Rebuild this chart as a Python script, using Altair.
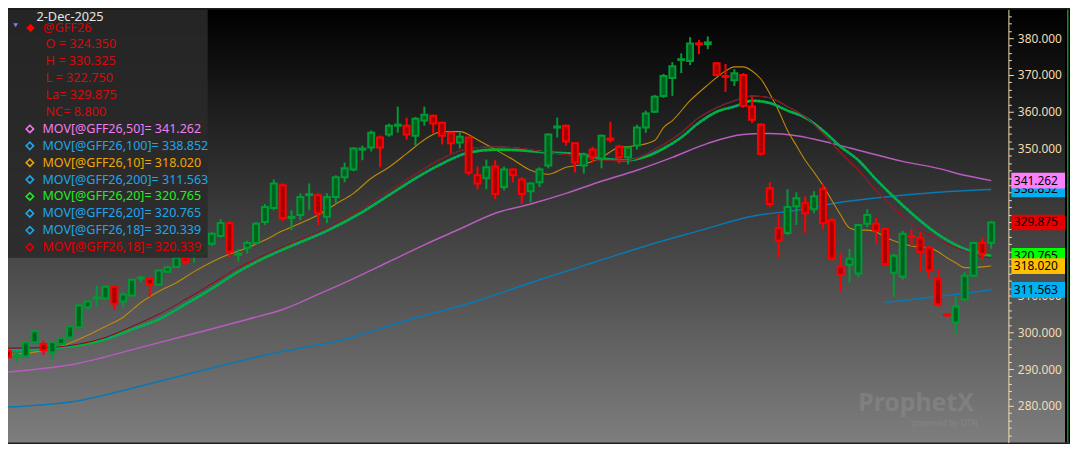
import altair as alt
import pandas as pd

# ---------------- data ----------------
OPEN = [294.9, 293.5, 293.5, 297.3, 296.8, 294.6, 296.8, 298.6, 301.4, 306.8,
        309.2, 309.2, 312.4, 308.4, 310.0, 314.6, 314.6, 313.0, 316.5, 317.8,
        320.3, 321.4, 321.4, 324.1, 326.2, 329.7, 321.1, 323.0, 324.3, 330.0,
        333.8, 340.0, 331.1, 331.9, 337.3, 337.3, 331.4, 336.8, 342.2, 344.3,
        349.7, 350.3, 353.0, 353.8, 356.2, 356.2, 353.5, 357.6, 358.9, 357.0,
        354.3, 351.6, 353.0, 342.7, 341.9, 345.1, 339.5, 344.3, 341.6, 338.4,
        340.8, 345.4, 355.7, 356.2, 351.4, 345.4, 349.7, 347.3, 352.7, 350.5,
        347.6, 350.8, 355.7, 360.0, 364.3, 369.2, 374.1, 373.8, 378.6, 378.4,
        373.2, 369.7, 368.6, 370.0, 361.4, 356.5, 339.2, 328.4, 327.0, 334.3,
        335.1, 333.5, 338.9, 330.5, 317.8, 318.4, 316.0, 329.5, 329.5, 328.1,
        316.2, 315.1, 326.2, 325.7, 323.0, 314.6, 304.9, 302.7, 308.9, 315.4,
        324.3, 324.35]
HIGH = [295.3, 294.6, 297.6, 300.6, 297.8, 297.6, 298.6, 302.0, 307.6, 308.6,
        312.7, 312.7, 312.7, 310.8, 314.6, 315.4, 314.9, 317.0, 318.1, 320.5,
        320.5, 321.9, 324.3, 327.3, 330.8, 330.3, 322.7, 324.9, 330.0, 334.9,
        341.6, 340.5, 333.2, 337.8, 340.5, 337.8, 337.8, 342.7, 346.2, 350.3,
        350.8, 354.9, 353.5, 356.8, 361.4, 358.4, 358.6, 361.4, 359.2, 357.3,
        354.6, 354.3, 353.2, 345.1, 347.0, 346.8, 345.1, 344.6, 342.2, 340.8,
        344.9, 354.1, 358.4, 356.5, 351.6, 348.9, 350.5, 353.8, 357.3, 351.0,
        350.5, 356.5, 360.3, 364.6, 370.3, 373.5, 375.9, 380.3, 379.5, 380.5,
        373.5, 373.0, 371.6, 370.5, 364.1, 356.8, 340.8, 332.2, 338.9, 338.1,
        337.0, 338.4, 340.3, 331.1, 321.6, 322.7, 329.5, 333.5, 331.1, 328.4,
        321.4, 327.6, 328.1, 327.3, 323.5, 317.0, 305.1, 309.7, 316.5, 324.6,
        325.7, 330.325]
LOW = [292.9, 291.9, 293.0, 297.0, 293.8, 292.4, 296.5, 298.1, 301.1, 306.0,
       307.0, 308.9, 306.2, 306.8, 309.7, 313.5, 309.7, 312.7, 316.2, 317.6,
       318.4, 318.9, 320.8, 323.5, 325.7, 320.3, 319.2, 321.4, 323.8, 329.2,
       333.2, 330.3, 327.8, 330.5, 333.2, 329.2, 329.7, 335.1, 340.8, 343.8,
       346.8, 349.2, 344.9, 353.2, 354.3, 352.4, 350.8, 356.2, 354.1, 351.1,
       348.6, 350.0, 342.7, 338.9, 338.9, 336.2, 338.6, 340.8, 334.9, 335.4,
       339.5, 344.6, 353.0, 350.8, 343.5, 343.2, 346.2, 344.6, 351.6, 345.9,
       345.7, 349.7, 354.3, 359.7, 363.8, 364.3, 370.5, 372.7, 375.7, 377.0,
       369.7, 365.4, 367.0, 361.1, 357.0, 348.1, 334.1, 320.5, 326.5, 329.2,
       327.0, 332.4, 328.1, 319.5, 311.1, 313.5, 315.1, 328.6, 324.3, 318.1,
       309.7, 314.3, 323.5, 316.5, 314.6, 307.0, 304.3, 299.5, 308.6, 315.1,
       319.7, 322.75]
CLOSE = [293.2, 293.8, 297.3, 300.3, 295.1, 297.3, 298.4, 301.6, 307.3, 308.4,
         309.5, 312.4, 307.8, 310.3, 314.3, 314.9, 313.0, 316.8, 317.6, 320.3,
         319.2, 321.6, 323.8, 326.8, 329.7, 321.9, 321.4, 324.3, 329.5, 334.1,
         340.5, 331.1, 331.4, 336.8, 337.6, 332.4, 336.8, 342.2, 344.6, 350.0,
         350.0, 354.3, 350.3, 356.2, 356.5, 353.8, 358.1, 359.2, 356.8, 353.5,
         351.4, 353.2, 343.5, 340.5, 344.9, 337.6, 344.3, 342.7, 337.6, 340.5,
         344.3, 353.8, 356.0, 351.9, 346.2, 348.4, 347.6, 353.5, 352.4, 347.6,
         350.3, 355.7, 359.5, 364.1, 369.7, 372.4, 374.3, 378.6, 378.4, 378.9,
         370.0, 369.5, 370.5, 361.6, 357.8, 348.6, 334.9, 324.9, 334.1, 336.5,
         332.4, 337.0, 329.7, 320.0, 315.7, 320.0, 329.2, 331.9, 327.6, 318.6,
         320.8, 326.8, 325.9, 321.9, 316.8, 307.6, 304.6, 307.0, 315.4, 324.3,
         321.4, 329.875]

MA10_IDX = [0, 3, 6, 9, 11, 13, 15, 17, 19, 21, 24, 27, 29, 31, 33, 35, 37, 39, 41, 43,
            45, 47, 49, 51, 53, 55, 57, 59, 61, 63, 65, 67, 69, 71, 73, 74, 75, 77, 79, 81,
            82, 83, 84, 85, 86, 87, 88, 89, 90, 91, 92, 93, 94, 95, 96, 97, 98, 99, 100, 101,
            102, 103, 104, 105, 106, 107, 108, 109, 110, 111]
MA10_VAL = [293.8, 294.6, 296.2, 299.2, 301.6, 304.1, 308.1, 311.1, 313.5, 316.5,
            320.3, 323.0, 325.1, 327.6, 329.7, 331.9, 334.9, 337.8, 341.9, 344.9,
            348.6, 352.4, 354.6, 354.6, 352.4, 349.7, 347.0, 344.1, 343.0, 344.9,
            345.7, 347.6, 350.3, 350.8, 352.2, 355.7, 357.6, 363.0, 367.3, 371.1,
            372.2, 372.2, 371.1, 368.9, 364.9, 360.3, 354.9, 350.8, 346.8, 343.5,
            340.0, 335.9, 331.9, 328.4, 327.8, 327.8, 327.3, 325.9, 324.9, 324.1,
            323.5, 323.2, 323.0, 321.9, 320.3, 318.9, 317.6, 317.6, 317.8, 318.02]

MA20_IDX = [0, 5, 8, 11, 14, 17, 20, 23, 26, 29, 32, 36, 40, 43, 46, 49, 52, 55, 58, 61,
            64, 67, 70, 72, 74, 76, 78, 80, 82, 84, 86, 88, 90, 92, 94, 96, 98, 100, 102, 104,
            106, 108, 110, 111]
MA20_VAL = [295.1, 295.7, 296.5, 298.1, 300.8, 303.5, 307.6, 311.9, 316.5, 320.3,
            323.5, 327.6, 332.7, 337.3, 341.9, 345.9, 348.9, 349.7, 349.5, 348.9,
            348.6, 347.3, 346.8, 347.8, 350.0, 353.0, 357.0, 360.0, 361.4, 363.0,
            362.4, 360.3, 358.4, 354.9, 350.5, 346.8, 341.6, 336.8, 332.4, 328.4,
            325.1, 322.7, 321.4, 320.765]
MA18_IDX = MA20_IDX
MA18_VAL = [295.7, 295.9, 296.8, 298.6, 301.6, 304.9, 308.9, 313.2, 317.6, 321.1,
            324.3, 328.4, 333.8, 338.4, 343.0, 347.3, 350.0, 350.5, 350.0, 348.9,
            348.1, 346.8, 346.8, 348.4, 351.1, 354.3, 358.4, 361.1, 363.0, 364.3,
            363.8, 361.4, 358.6, 354.1, 348.9, 344.1, 338.6, 333.8, 329.5, 326.5,
            324.1, 322.2, 320.5, 320.339]
MA50_IDX = [0, 8, 15, 22, 27, 31, 35, 39, 43, 47, 51, 55, 59, 63, 67, 71, 75, 79, 83, 86,
            89, 93, 97, 101, 105, 108, 111]
MA50_VAL = [289.2, 291.6, 295.9, 300.3, 303.5, 306.2, 310.3, 314.6, 319.2, 323.8,
            328.1, 332.4, 334.9, 337.8, 341.1, 344.1, 347.6, 351.4, 353.8, 354.1,
            353.5, 351.4, 348.9, 346.5, 344.6, 342.7, 341.262]
MA100_IDX = [0, 8, 15, 23, 30, 38, 45, 53, 60, 66, 72, 78, 84, 89, 94, 99, 105, 111]
MA100_VAL = [279.7, 281.4, 285.4, 290.3, 294.3, 298.1, 303.2, 308.6, 314.3, 318.9,
             323.5, 327.6, 331.6, 333.2, 335.4, 336.8, 338.1, 338.852]
MA200_IDX = [99, 103, 107, 111]
MA200_VAL = [308.1, 309.2, 310.3, 311.563]

DATE_TEXT = "2-Dec-2025"
SYMBOL = "@GFF26"
QUOTE_LINES = ["O = 324.350", "H = 330.325", "L = 322.750", "La= 329.875", "NC= 8.800"]
STUDY_LINES = ["MOV[@GFF26,50]= 341.262", "MOV[@GFF26,100]= 338.852", "MOV[@GFF26,10]= 318.020",
               "MOV[@GFF26,200]= 311.563", "MOV[@GFF26,20]= 320.765", "MOV[@GFF26,20]= 320.765",
               "MOV[@GFF26,18]= 320.339", "MOV[@GFF26,18]= 320.339"]
STUDY_COLORS = ["#f07ef0", "#1ea6ec", "#f0a800", "#1ea6ec", "#22ee22", "#1ea6ec", "#1ea6ec", "#e00000"]
TAG_VALS = [338.852, 341.262, 329.875, 320.765, 318.020, 311.563]
TAG_COLORS = ["#00b0f0", "#ff80ff", "#e80000", "#00ff00", "#ffc000", "#00b0f0"]

# ---------------- layout ----------------
W, H = 1069, 436
PX_PER_UNIT = 3.7
XDOM = [5 / 9, (W + 5) / 9]
YDOM = [380 - (H - 29) / PX_PER_UNIT, 380 + 29 / PX_PER_UNIT]
xs = alt.Scale(domain=XDOM, nice=False, zero=False)
ys = alt.Scale(domain=YDOM, nice=False, zero=False)
FONT = "Noto Sans"
CREAM = "#f2dcb2"

UP_EDGE, UP_FILL = "#009a36", "#00621f"
DN_EDGE, DN_FILL = "#ff0000", "#a60000"

yaxis = alt.Axis(
    orient="right", offset=-62, values=list(range(272, 388, 2)),
    labelExpr="(datum.value % 10 === 0 && datum.value >= 280 && datum.value <= 380) ? format(datum.value, '.3f') : ''",
    tickSize={"condition": {"test": "datum.value % 10 === 0", "value": 5}, "value": 3},
    tickColor=CREAM, domainColor=CREAM, labelColor=CREAM, labelFont=FONT, labelFontSize=12,
    labelPadding=4, grid=False, title=None, domainWidth=1, tickWidth=1,
    labelOverlap=False, labelBound=False, labelFlush=False,
)
X_ENC = alt.X("i:Q", scale=xs, axis=None)


def Y(field):
    return alt.Y(field, scale=ys, axis=yaxis)


layers = []


def line_layer(idx, vals, color, width, dash=None):
    df = pd.DataFrame({"i": idx, "v": vals})
    kw = dict(color=color, strokeWidth=width, interpolate="monotone")
    if dash:
        kw["strokeDash"] = dash
    return alt.Chart(df).mark_line(**kw).encode(x=X_ENC, y=Y("v:Q"))


layers.append(line_layer(MA50_IDX, MA50_VAL, "#b85cc0", 1.5))
layers.append(line_layer(MA100_IDX, MA100_VAL, "#0a78b4", 1.5))
layers.append(line_layer(MA10_IDX, MA10_VAL, "#c08a08", 1.1))
layers.append(line_layer(MA200_IDX, MA200_VAL, "#0a78b4", 1.5))
layers.append(line_layer(MA20_IDX, MA20_VAL, "#00b428", 2.6))
layers.append(line_layer(MA20_IDX, MA20_VAL, "#0a98c8", 2.6, dash=[1, 3]))
layers.append(line_layer(MA18_IDX, MA18_VAL, "#0a98c8", 1.1))
layers.append(line_layer(MA18_IDX, MA18_VAL, "#a00000", 1.1))

cd = pd.DataFrame({"i": list(range(len(OPEN))), "o": OPEN, "h": HIGH, "l": LOW, "c": CLOSE})
cd["dir"] = ["up" if c >= o else "down" for o, c in zip(OPEN, CLOSE)]

wicks = alt.Chart(cd).mark_rule(strokeWidth=2).encode(
    x=X_ENC, y=Y("l:Q"), y2="h:Q",
    color=alt.Color("dir:N", scale=alt.Scale(domain=["up", "down"], range=[UP_EDGE, DN_EDGE]), legend=None),
)
bodies = alt.Chart(cd).mark_bar(size=6, strokeWidth=2).encode(
    x=X_ENC, y=Y("o:Q"), y2="c:Q",
    fill=alt.Fill("dir:N", scale=alt.Scale(domain=["up", "down"], range=[UP_FILL, DN_FILL]), legend=None),
    stroke=alt.Stroke("dir:N", scale=alt.Scale(domain=["up", "down"], range=[UP_EDGE, DN_EDGE]), legend=None),
)
layers += [wicks, bodies]


def one(**cols):
    return pd.DataFrame({k: [v] for k, v in cols.items()})


def txt(s, x, y, color, size=12.6, align="left", weight="normal", opacity=1.0):
    return alt.Chart(one(t=s)).mark_text(
        align=align, baseline="middle", font=FONT, fontSize=size, fontWeight=weight,
        color=color, opacity=opacity).encode(x=alt.value(x), y=alt.value(y), text="t:N")


def box(x, x2, y, y2, color, opacity=1.0):
    return alt.Chart(one(a=0)).mark_rect(color=color, opacity=opacity).encode(
        x=alt.value(x), x2=alt.value(x2), y=alt.value(y), y2=alt.value(y2))


# watermark
layers.append(txt("ProphetX", 914, 396, "#a0a0a0", size=25, align="center", weight="bold", opacity=0.3))
layers.append(txt("powered by DTN", 976, 416.5, "#a0a0a0", size=8.5, align="right", opacity=0.3))

# value tags on the axis
for v, col in zip(TAG_VALS, TAG_COLORS):
    half = 7.9 / PX_PER_UNIT
    tdf = pd.DataFrame({"lo": [v - half], "hi": [v + half], "v": [v], "lab": [f"{v:.3f}"]})
    layers.append(alt.Chart(tdf).mark_rect(color=col).encode(
        x=alt.value(1010), x2=alt.value(1064), y=Y("lo:Q"), y2="hi:Q"))
    layers.append(alt.Chart(tdf).mark_text(align="left", baseline="middle", font=FONT, fontSize=12,
                                           color="#000000").encode(
        x=alt.value(1012.5), y=Y("v:Q"), text="lab:N"))

# legend panel
layers.append(box(0, 201, 0, 250, "#2a2a2a", 0.88))
layers.append(txt(DATE_TEXT, 28.7, 7.5, "#e6e6e6", size=12.8))
layers.append(alt.Chart(one(a=0)).mark_point(shape="triangle-down", filled=True, size=22,
                                             color="#8080ff", opacity=1).encode(
    x=alt.value(7.7), y=alt.value(16)))
layers.append(alt.Chart(one(a=0)).mark_point(shape="diamond", filled=True, size=70,
                                             color="#ff0000", opacity=1).encode(
    x=alt.value(22.7), y=alt.value(18.7)))
layers.append(txt(SYMBOL, 35.3, 18.7, "#e00000", size=12.8))
for k, s in enumerate(QUOTE_LINES):
    layers.append(txt(s, 37.7, 35.3 + 17 * k, "#d80a0a", size=12.8))
for k, (s, col) in enumerate(zip(STUDY_LINES, STUDY_COLORS)):
    yy = 120.3 + 17 * k
    layers.append(alt.Chart(one(a=0)).mark_point(shape="diamond", filled=False, size=55,
                                                 strokeWidth=1.6, color=col, opacity=1).encode(
        x=alt.value(22), y=alt.value(yy)))
    layers.append(txt(s, 34.7, yy, col, size=12.6))

# right border strip
layers.append(box(1064, 1069, 0, H, "#000000"))
layers.append(box(1066, 1067.5, 0, H, "#0f8f2f"))

GRAD = ("{'gradient': 'linear', 'x1': 0, 'y1': 0, 'x2': 0, 'y2': 1, "
        "'stops': [{'offset': 0, 'color': '#000000'}, {'offset': 1, 'color': '#7e7e7e'}]}")

chart = alt.layer(*layers).properties(
    width=W, height=H, autosize=alt.AutoSizeParams(type="none"), padding=0,
    background="#1e1e1e",
).configure_view(stroke=None, fill={"expr": GRAD})

chart.save("out.html", embed_options={"renderer": "svg", "actions": False})
